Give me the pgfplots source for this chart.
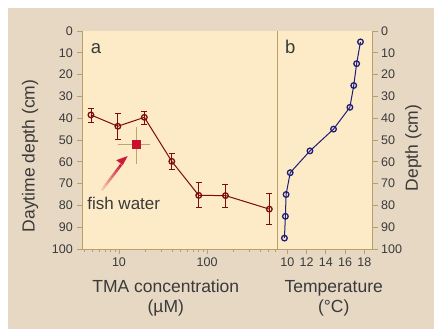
\documentclass[border=0pt]{standalone}
\usepackage{fontspec}
\setmainfont{Liberation Sans}
\usepackage{pgfplots}
\usepackage{pgfplotstable}
\pgfplotsset{compat=1.18}
\usetikzlibrary{arrows.meta}
\definecolor{outerbg}{RGB}{230,216,195}
\definecolor{innerbg}{RGB}{253,234,199}
\definecolor{axtan}{RGB}{184,160,104}
\definecolor{txt}{RGB}{58,58,58}
\definecolor{dred}{RGB}{125,12,12}
\definecolor{navy}{RGB}{30,30,120}
\definecolor{fishred}{RGB}{200,16,46}
\definecolor{errtan}{RGB}{190,165,110}
\pgfplotstableread{
x y ep em
4.8 38.5 3.5 3.0
9.7 43.7 5.8 5.7
19.4 39.6 3.4 2.6
39.8 59.8 3.9 3.8
80.5 75.4 5.6 6.1
162 75.5 5.2 5.0
510 81.7 7.0 7.1
}\tmadata
\pgfplotstableread{
x y xp xm ep em
15.7 52 4.9 5.2 7.5 6.5
}\fishdata
\pgfplotstableread{
t d
17.6 5
17.2 15
16.9 25
16.5 35
14.8 45
12.35 55
10.3 65
9.87 75
9.8 85
9.7 95
}\tempdata
\pgfplotsset{
  panel/.style={
    scale only axis, anchor=south west,
    height=218pt,
    axis background/.style={fill=innerbg},
    axis line style={axtan, line width=0.9pt, -},
    tick align=outside,
    major tick length=5pt, minor tick length=3pt,
    every tick/.style={axtan, line width=0.8pt},
    /pgf/number format/assume math mode=true,
    tick label style={font=\fontsize{12.5}{14}\selectfont, text=txt},
    y dir=reverse, ymin=0, ymax=100, ytick={0,10,...,100},
    clip=false,
  }
}
\begin{document}
\begin{tikzpicture}[x=1pt,y=1pt]
\path[use as bounding box] (0pt,0pt) rectangle (434pt,-329pt);
\fill[white] (0pt,0pt) rectangle (434pt,-329pt);
\fill[outerbg] (8pt,-8pt) rectangle (434pt,-329pt);
\begin{axis}[panel, at={(82.3pt,-249pt)}, width=195.4pt,
  axis x line*=bottom, axis y line*=left,
  xmode=log, xmin=3.83, xmax=635,
  xtick={10,100}, xticklabels={10,100},
  minor xtick={4,5,6,7,8,9,20,30,40,50,60,70,80,90,200,300,400,500,600},
  yticklabel style={xshift=-1pt},
]
\addplot[dred, line width=1pt, mark=o, mark size=2.8pt,
  mark options={fill=innerbg, line width=1.3pt},
  error bars/.cd, y dir=both, y explicit,
  error bar style={dred, line width=0.8pt},
  error mark options={rotate=90, mark size=3pt, dred, line width=0.8pt}]
  table[x=x, y=y, y error plus=ep, y error minus=em] {\tmadata};
\addplot[only marks, mark=square*, mark size=4pt, mark options={fill=fishred, draw=fishred},
  error bars/.cd, x dir=both, x explicit, y dir=both, y explicit,
  error bar style={errtan, line width=1pt},
  error mark options={mark size=3pt, errtan, line width=1pt}]
  table[x=x, y=y, x error plus=xp, x error minus=xm, y error plus=ep, y error minus=em] {\fishdata};
\end{axis}
\begin{axis}[panel, at={(277.7pt,-249pt)}, width=95pt,
  axis x line*=bottom, axis y line*=right,
  xmin=9, xmax=18.87, xtick={10,12,...,18},
  yticklabel pos=right,
]
\draw[axtan, line width=0.9pt] (rel axis cs:0,0) -- (rel axis cs:0,1);
\addplot[navy, line width=1pt, mark=o, mark size=2.8pt,
  mark options={fill=innerbg, line width=1.3pt}]
  table[x=t, y=d] {\tempdata};
\end{axis}
% arrow
\foreach \i in {0,...,9}{
  \pgfmathsetmacro{\ta}{\i/10*0.75}
  \pgfmathsetmacro{\tb}{(\i+1)/10*0.75}
  \pgfmathsetmacro{\pc}{15+\i*8.5}
  \draw[fishred!\pc!innerbg, line width=2.6pt]
    ({102+25.7*\ta},{-190+34*\ta}) -- ({102+25.7*\tb},{-190+34*\tb});
}
\fill[fishred!95!innerbg] (127.7,-156) -- ++(-11.5,-4.2) -- ++(6.6,-4.9) -- cycle;
\node[font=\fontsize{17}{20}\selectfont, text=txt, anchor=base] at (123.7,-209.3) {fish water};
\node[font=\fontsize{18.5}{20}\selectfont, text=txt, anchor=base west, inner sep=0] at (90.7,-54) {a};
\node[font=\fontsize{18.5}{20}\selectfont, text=txt, anchor=base west, inner sep=0] at (285,-54) {b};
\node[font=\fontsize{17.5}{20}\selectfont, text=txt, rotate=90] at (30,-156) {Daytime depth (cm)};
\node[font=\fontsize{17.5}{20}\selectfont, text=txt, rotate=90] at (413.3,-148) {Depth (cm)};
\node[font=\fontsize{17.5}{20}\selectfont, text=txt, align=center, anchor=north, inner sep=0] at (165.8,-280) {TMA concentration\\(µM)};
\node[font=\fontsize{17.5}{20}\selectfont, text=txt, align=center, anchor=north, inner sep=0] at (333.7,-280) {Temperature\\(°C)};
\end{tikzpicture}
\end{document}
